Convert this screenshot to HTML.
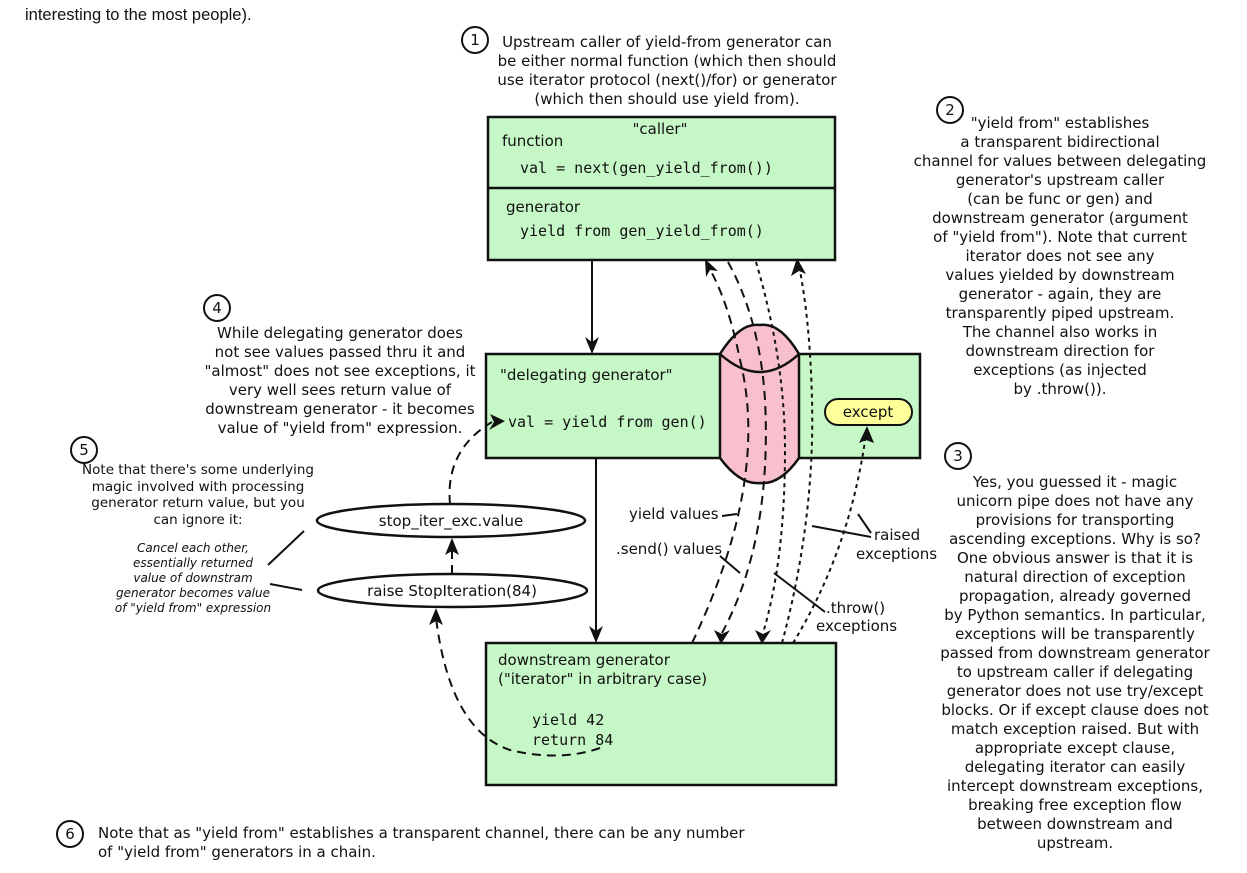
<!DOCTYPE html>
<html><head><meta charset="utf-8"><style>
html,body{margin:0;padding:0;background:#fff;}
svg{display:block;}
text{font-family:"DejaVu Sans","Liberation Sans",sans-serif;font-size:15px;fill:#111;}
.m{font-family:"DejaVu Sans Mono","Liberation Mono",monospace;font-size:15px;}
.c{text-anchor:middle;}
.i{font-style:italic;font-size:12px;}
.box{fill:#c6f7c6;stroke:#111;stroke-width:2.5;}
.ln{fill:none;stroke:#111;stroke-width:2;}
.da{fill:none;stroke:#111;stroke-width:2;stroke-dasharray:9,6;}
.do{fill:none;stroke:#111;stroke-width:2;stroke-dasharray:4,4;}
.circ{fill:#fff;stroke:#111;stroke-width:2;}
</style></head><body>
<svg width="1247" height="873" viewBox="0 0 1247 873" xmlns="http://www.w3.org/2000/svg">
<text x="25" y="20" style="font-family:'Liberation Sans',sans-serif;font-size:16.5px">interesting to the most people).</text>

<!-- caller box -->
<rect class="box" x="488" y="117" width="347" height="143"/>
<line class="ln" x1="488" y1="188" x2="835" y2="188" style="stroke-width:2.5"/>
<text x="660" y="134" class="c">"caller"</text>
<text x="502" y="146">function</text>
<text x="520" y="173" class="m">val = next(gen_yield_from())</text>
<text x="506" y="212">generator</text>
<text x="520" y="236" class="m">yield from gen_yield_from()</text>

<!-- delegating box -->
<rect class="box" x="486" y="354" width="434" height="104"/>
<text x="500" y="380">"delegating generator"</text>
<text x="508" y="427" class="m">val = yield from gen()</text>
<rect x="825" y="399" width="87" height="26" rx="13" fill="#ffff99" stroke="#111" stroke-width="2"/>
<text x="868" y="417" class="c">except</text>

<!-- pipe -->
<path d="M720,354 Q740,322 760,325 Q780,322 799,354 L799,458 Q780,485 760,483 Q740,485 720,458 Z" fill="#f8c0cc" stroke="#111" stroke-width="2.5"/>
<path d="M720,354 Q760,390 799,354" class="ln" style="stroke-width:2.5"/>

<!-- downstream box -->
<rect class="box" x="486" y="643" width="350" height="142"/>
<text x="498" y="665">downstream generator</text>
<text x="498" y="684">("iterator" in arbitrary case)</text>
<text x="532" y="725" class="m">yield 42</text>
<text x="532" y="745" class="m">return 84</text>

<!-- vertical arrows -->
<line class="ln" x1="592" y1="260" x2="592" y2="344"/>
<path d="M585,337 L592,354 L599,337 L592,342Z" fill="#111"/>
<line class="ln" x1="596" y1="458" x2="596" y2="633"/>
<path d="M589,626 L596,643 L603,626 L596,631Z" fill="#111"/>

<!-- channel curves -->
<path class="da" d="M692,643 Q770,480 740,360 Q728,300 708,266"/>
<path d="M705,259 L706,277 L710,270 L718,271Z" fill="#111"/>
<path class="da" d="M728,262 Q760,320 765,400 Q772,540 722,633"/>
<path d="M714,630 L721,644 L730,630 L722,634Z" fill="#111"/>
<path class="do" d="M756,262 Q785,360 785,450 Q785,560 763,633"/>
<path d="M755,630 L762,644 L771,630 L763,634Z" fill="#111"/>
<path class="do" d="M782,643 Q815,520 812,400 Q810,320 799,266"/>
<path d="M797,258 L791,276 L799,271 L806,274Z" fill="#111"/>
<path class="do" d="M793,643 Q850,550 866,434"/>
<path d="M867,426 L859,443 L866,440 L874,443Z" fill="#111"/>

<!-- labels -->
<text x="629" y="519">yield values</text>
<line class="ln" x1="722" y1="516" x2="737" y2="514"/>
<text x="616" y="554">.send() values</text>
<line class="ln" x1="720" y1="556" x2="740" y2="573"/>
<text x="874" y="540">raised</text>
<text x="856" y="559">exceptions</text>
<line class="ln" x1="812" y1="526" x2="871" y2="537"/>
<line class="ln" x1="858" y1="514" x2="871" y2="533"/>
<text x="826" y="613">.throw()</text>
<text x="816" y="631">exceptions</text>
<line class="ln" x1="774" y1="573" x2="825" y2="612"/>

<!-- ellipses -->
<rect x="317" y="504" width="268" height="33" rx="134" ry="16.5" fill="#fff" stroke="#111" stroke-width="2.5"/>
<text x="451" y="526" class="c">stop_iter_exc.value</text>
<rect x="318" y="574" width="269" height="33" rx="134" ry="16.5" fill="#fff" stroke="#111" stroke-width="2.5"/>
<text x="452" y="596" class="c">raise StopIteration(84)</text>
<path class="da" d="M452,574 L452,548"/>
<path d="M445,555 L452,538 L459,555 L452,551Z" fill="#111"/>
<path class="da" d="M450,504 Q445,450 492,422"/>
<path d="M490,414 L505,421 L489,430 L494,422Z" fill="#111"/>
<path class="da" d="M600,748 Q560,762 510,750 Q450,730 436,618"/>
<path d="M429,625 L436,608 L443,625 L436,621Z" fill="#111"/>
<line class="ln" x1="304" y1="531" x2="268" y2="565"/>
<line class="ln" x1="302" y1="590" x2="270" y2="584"/>

<!-- note 1 -->
<circle class="circ" cx="475" cy="40" r="13"/><text x="475" y="45" class="c">1</text>
<text x="667" y="47" class="c">Upstream caller of yield-from generator can</text>
<text x="667" y="66" class="c">be either normal function (which then should</text>
<text x="667" y="85" class="c">use iterator protocol (next()/for) or generator</text>
<text x="667" y="104" class="c">(which then should use yield from).</text>

<!-- note 2 -->
<circle class="circ" cx="950" cy="110" r="13"/><text x="950" y="115" class="c">2</text>
<text x="1060" y="128" class="c">"yield from" establishes</text>
<text x="1060" y="147" class="c">a transparent bidirectional</text>
<text x="1060" y="166" class="c">channel for values between delegating</text>
<text x="1060" y="185" class="c">generator's upstream caller</text>
<text x="1060" y="204" class="c">(can be func or gen) and</text>
<text x="1060" y="223" class="c">downstream generator (argument</text>
<text x="1060" y="242" class="c">of "yield from"). Note that current</text>
<text x="1060" y="261" class="c">iterator does not see any</text>
<text x="1060" y="280" class="c">values yielded by downstream</text>
<text x="1060" y="299" class="c">generator - again, they are</text>
<text x="1060" y="318" class="c">transparently piped upstream.</text>
<text x="1060" y="337" class="c">The channel also works in</text>
<text x="1060" y="356" class="c">downstream direction for</text>
<text x="1060" y="375" class="c">exceptions (as injected</text>
<text x="1060" y="394" class="c">by .throw()).</text>

<!-- note 3 -->
<circle class="circ" cx="958" cy="456" r="13"/><text x="958" y="461" class="c">3</text>
<text x="1075" y="487" class="c">Yes, you guessed it - magic</text>
<text x="1075" y="506" class="c">unicorn pipe does not have any</text>
<text x="1075" y="525" class="c">provisions for transporting</text>
<text x="1075" y="544" class="c">ascending exceptions. Why is so?</text>
<text x="1075" y="563" class="c">One obvious answer is that it is</text>
<text x="1075" y="582" class="c">natural direction of exception</text>
<text x="1075" y="601" class="c">propagation, already governed</text>
<text x="1075" y="620" class="c">by Python semantics. In particular,</text>
<text x="1075" y="639" class="c">exceptions will be transparently</text>
<text x="1075" y="658" class="c">passed from downstream generator</text>
<text x="1075" y="677" class="c">to upstream caller if delegating</text>
<text x="1075" y="696" class="c">generator does not use try/except</text>
<text x="1075" y="715" class="c">blocks. Or if except clause does not</text>
<text x="1075" y="734" class="c">match exception raised. But with</text>
<text x="1075" y="753" class="c">appropriate except clause,</text>
<text x="1075" y="772" class="c">delegating iterator can easily</text>
<text x="1075" y="791" class="c">intercept downstream exceptions,</text>
<text x="1075" y="810" class="c">breaking free exception flow</text>
<text x="1075" y="829" class="c">between downstream and</text>
<text x="1075" y="848" class="c">upstream.</text>

<!-- note 4 -->
<circle class="circ" cx="217" cy="308" r="13"/><text x="217" y="313" class="c">4</text>
<text x="340" y="338" class="c">While delegating generator does</text>
<text x="340" y="357" class="c">not see values passed thru it and</text>
<text x="340" y="376" class="c">"almost" does not see exceptions, it</text>
<text x="340" y="395" class="c">very well sees return value of</text>
<text x="340" y="414" class="c">downstream generator - it becomes</text>
<text x="340" y="433" class="c">value of "yield from" expression.</text>

<!-- note 5 -->
<circle class="circ" cx="84" cy="450" r="13"/><text x="84" y="455" class="c">5</text>
<text x="198" y="474" class="c" style="font-size:13.5px">Note that there's some underlying</text>
<text x="198" y="491" class="c" style="font-size:13.5px">magic involved with processing</text>
<text x="198" y="507" class="c" style="font-size:13.5px">generator return value, but you</text>
<text x="198" y="524" class="c" style="font-size:13.5px">can ignore it:</text>
<text x="193" y="552" class="c i">Cancel each other,</text>
<text x="193" y="567" class="c i">essentially returned</text>
<text x="193" y="582" class="c i">value of downstram</text>
<text x="193" y="597" class="c i">generator becomes value</text>
<text x="193" y="612" class="c i">of "yield from" expression</text>

<!-- note 6 -->
<circle class="circ" cx="70" cy="834" r="13"/><text x="70" y="839" class="c">6</text>
<text x="98" y="838">Note that as "yield from" establishes a transparent channel, there can be any number</text>
<text x="98" y="857">of "yield from" generators in a chain.</text>
</svg>
</body></html>
